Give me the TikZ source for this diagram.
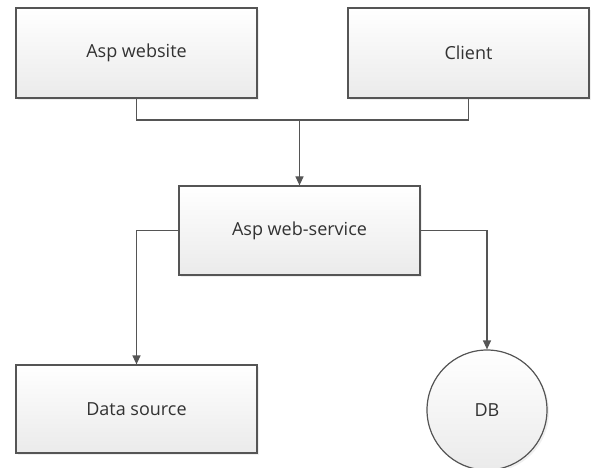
\documentclass[tikz,border=0pt]{standalone}
\usepackage{fontspec}
\setmainfont{Open Sans}
\usetikzlibrary{positioning,shapes,arrows.meta,calc,shadows}
\definecolor{linegray}{RGB}{85,85,85}
\definecolor{textgray}{RGB}{50,50,50}

\tikzset{
  block/.style={draw=linegray, line width=1.2pt, top color=white, bottom color=black!8,
    minimum width=241pt, minimum height=90pt, font=\fontsize{18}{20}\selectfont, text=textgray,
    drop shadow={shadow xshift=2pt, shadow yshift=-2pt, fill=black!12}},
  dbnode/.style={block, circle, minimum width=0pt, minimum size=120pt},
  link/.style={draw=linegray, line width=1.2pt},
  flow/.style={link, -{Triangle[length=9pt,width=8pt]}}
}

\begin{document}
\begin{tikzpicture}[x=1pt,y=-1pt]
% 1 unit = 1 pixel of the 592x468 picture, y grows downwards
\useasboundingbox (0,0) rectangle (592,468);

% Top row
\node[block] (website) at (136.5,53) {Asp website};
\node[block] (client) at (468.5,53) {Client};

% Middle
\node[block, minimum height=89pt] (service) at (299.5,230.5) {Asp web-service};

% Bottom row
\node[block, minimum height=88pt] (datasrc) at (136.5,409) {Data source};
\node[dbnode] (db) at (487,410) {DB};

% Both callers join before the service
\coordinate (join) at (299.5,120);
\draw[link] (website.south) |- (join) -| (client.south);
\draw[flow] (join) -- (service.north);

% Service to the stores
\draw[flow] (service.west) -| (datasrc.north);
\draw[flow] (service.east) -| (db.north);
\end{tikzpicture}
\end{document}
